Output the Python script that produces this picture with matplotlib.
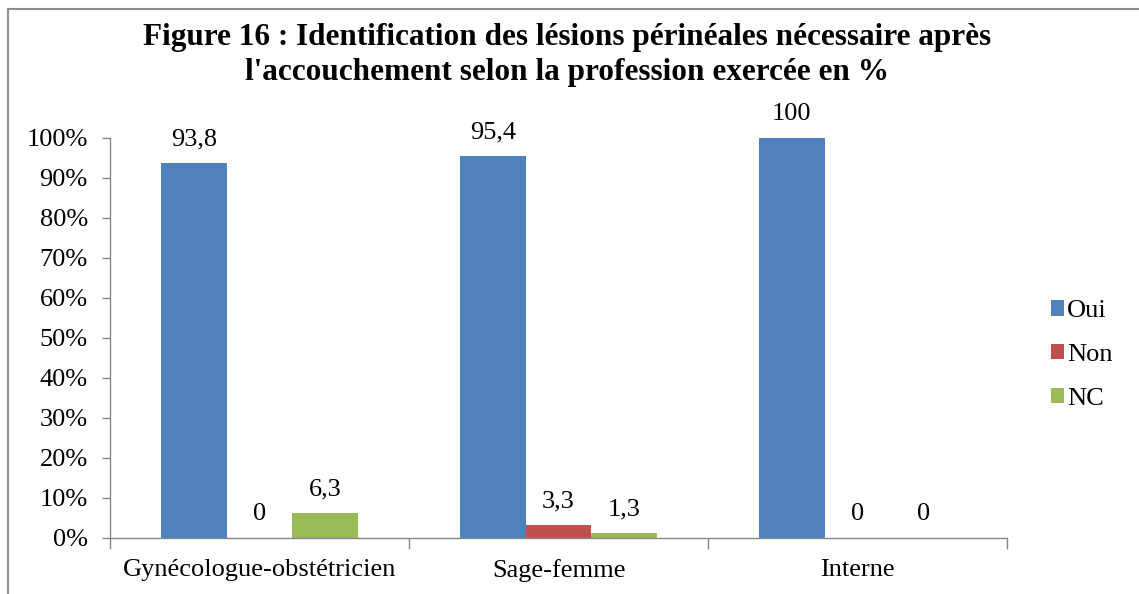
import numpy as np
import matplotlib
matplotlib.use("Agg")
import matplotlib.pyplot as plt
from matplotlib.lines import Line2D
from matplotlib.ticker import FixedLocator

# Data
categories = ["Gynécologue-obstétricien", "Sage-femme", "Interne"]
series_names = ["Oui", "Non", "NC"]
oui = [93.8, 95.4, 100]
non = [0, 3.3, 0]
nc = [6.3, 1.3, 0]
y_ticks = [0, 10, 20, 30, 40, 50, 60, 70, 80, 90, 100]

colors = ["#4F81BD", "#C0504D", "#9BBB59"]
axis_gray = "#868686"
fs = 19

plt.rcParams['font.family'] = ['Liberation Serif', 'DejaVu Serif']

fig = plt.figure(figsize=(11.39, 5.94), dpi=100)
ax = fig.add_axes([110 / 1139, 1 - 538 / 594, 897 / 1139, 400 / 594])

x = np.arange(len(categories))
width = 0.22


def fmt(v):
    if float(v).is_integer():
        return str(int(v))
    return ("%.1f" % v).replace(".", ",")


for i, (name, vals) in enumerate(zip(series_names, [oui, non, nc])):
    bars = ax.bar(x + (i - 1) * width, vals, width, color=colors[i], label=name)
    for b, v in zip(bars, vals):
        ax.annotate(fmt(v), (b.get_x() + b.get_width() / 2, v),
                    xytext=(0, 9), textcoords="offset points",
                    ha="center", va="bottom", fontsize=fs, annotation_clip=False)

ax.set_xlim(-0.5, len(categories) - 0.5)
ax.set_ylim(0, 100)

# y axis
ax.set_yticks(y_ticks)
ax.set_yticklabels(["%d%%" % t for t in y_ticks])
ax.tick_params(axis="y", length=6, width=1, color=axis_gray, pad=10, labelsize=fs)

# x axis: ticks on category boundaries, labels at centers
ax.xaxis.set_major_locator(FixedLocator(np.arange(len(categories) + 1) - 0.5))
ax.set_xticklabels([])
ax.xaxis.set_minor_locator(FixedLocator(x))
ax.set_xticks(x, categories, minor=True)
ax.tick_params(axis="x", which="major", length=8, width=1, color=axis_gray)
ax.tick_params(axis="x", which="minor", length=0, pad=15, labelsize=fs)

for s in ["top", "right"]:
    ax.spines[s].set_visible(False)
for s in ["left", "bottom"]:
    ax.spines[s].set_color(axis_gray)
    ax.spines[s].set_linewidth(1)

# Title
fig.text(0.498, 1 - 55 / 594,
         "Figure 16 : Identification des lésions périnéales nécessaire après\n"
         "l'accouchement selon la profession exercée en %",
         ha="center", va="center", fontsize=22.5, fontweight="bold", linespacing=1.27)

# Legend
ax.legend(loc="center left", bbox_to_anchor=(1051 / 1139, 1 - 355 / 594),
          bbox_transform=fig.transFigure, frameon=False, fontsize=fs,
          handlelength=0.5, handleheight=0.5, handletextpad=0.1,
          labelspacing=0.82, borderpad=0, borderaxespad=0)

# Outer frame (top and left edges visible)
fig.add_artist(Line2D([8 / 1139, 8 / 1139], [0, 1 - 9 / 594],
                      transform=fig.transFigure, color="#8c8c8c", lw=1.5))
fig.add_artist(Line2D([8 / 1139, 1], [1 - 9 / 594, 1 - 9 / 594],
                      transform=fig.transFigure, color="#8c8c8c", lw=1.5))

fig.savefig("out.png", dpi=100)
